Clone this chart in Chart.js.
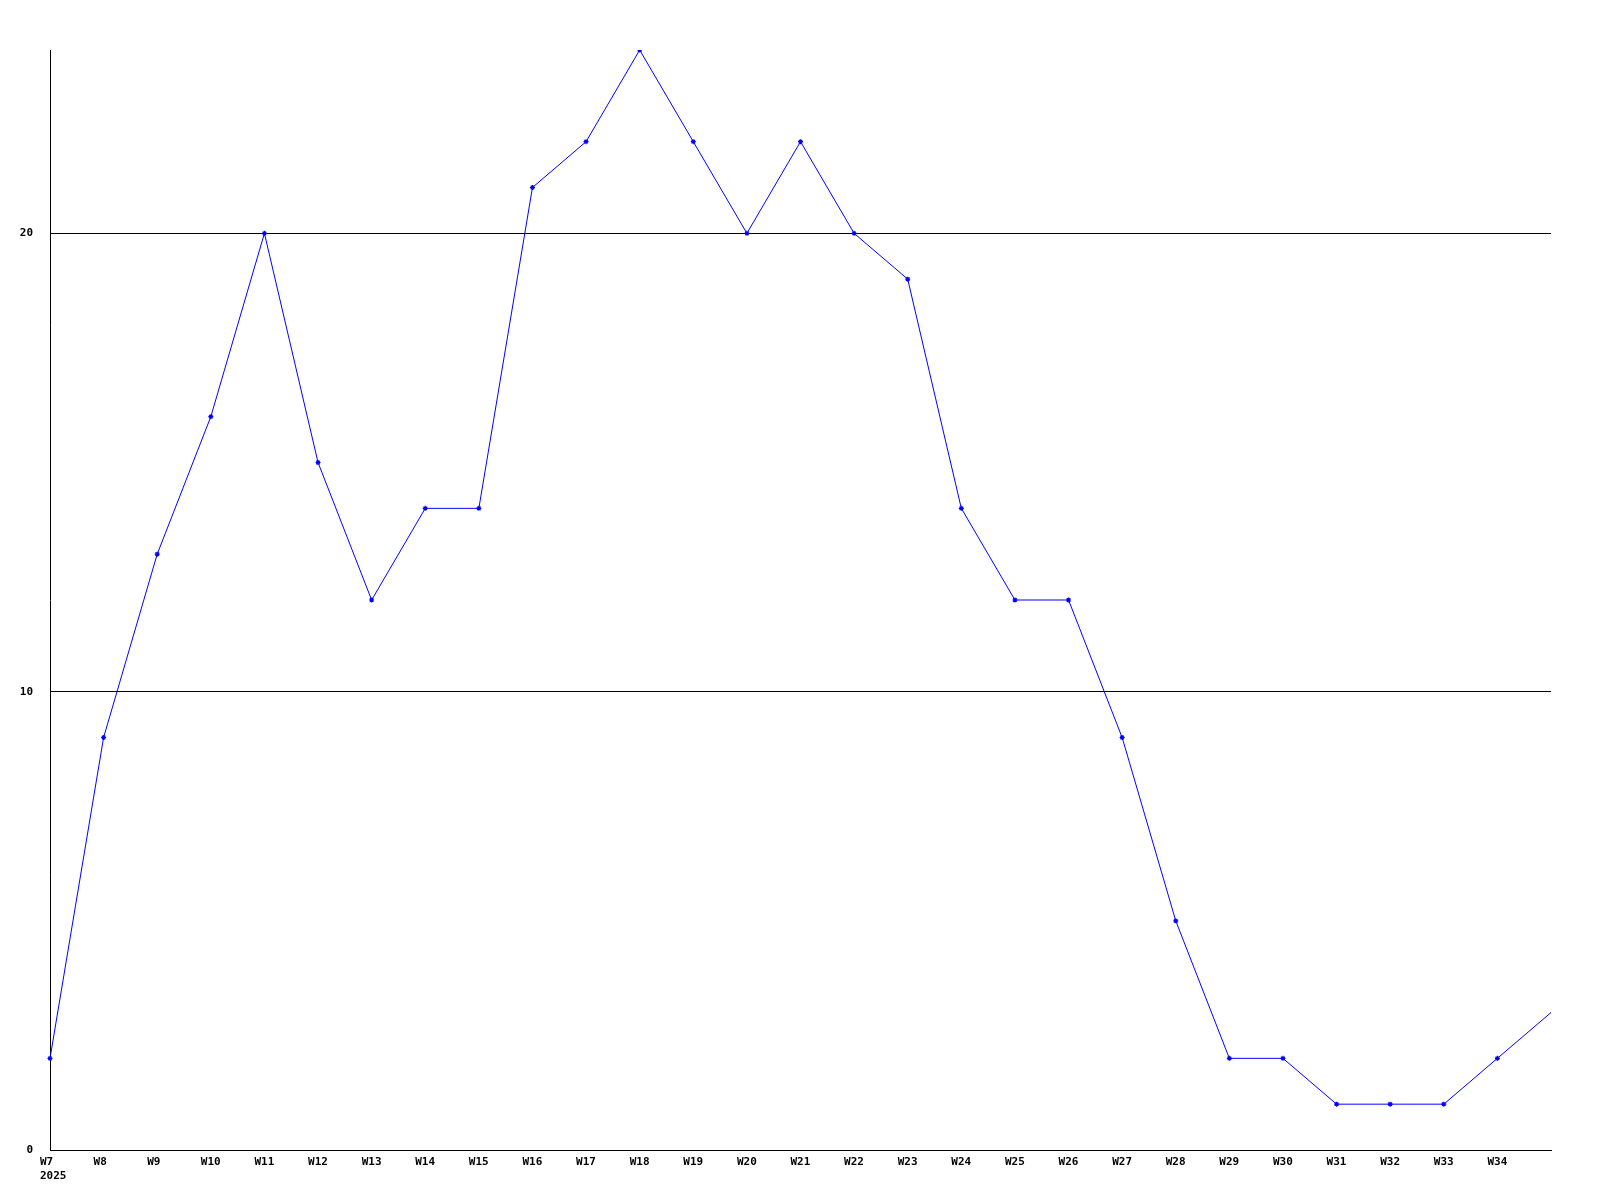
<!DOCTYPE html>
<html>
<head>
<meta charset="utf-8">
<script src="https://cdn.jsdelivr.net/npm/chart.js@4.4.1/dist/chart.umd.min.js"></script>
<style>
  html, body { margin: 0; padding: 0; background: #fff; }
  #wrap { width: 1600px; height: 1200px; }
</style>
</head>
<body>
<div id="wrap"><canvas id="chart" width="1600" height="1200"></canvas></div>
<script>
// Weeks shown on the x axis (W35 has a point but no label)
const weeks = ['W7', 'W8', 'W9', 'W10', 'W11', 'W12', 'W13', 'W14', 'W15', 'W16',
    'W17', 'W18', 'W19', 'W20', 'W21', 'W22', 'W23', 'W24', 'W25', 'W26',
    'W27', 'W28', 'W29', 'W30', 'W31', 'W32', 'W33', 'W34', 'W35'];
const yearLabel = '2025';
const counts = [2, 9, 13, 16, 20, 15, 12, 14, 14, 21,
    22, 24, 22, 20, 22, 20, 19, 14, 12, 12,
    9, 5, 2, 2, 1, 1, 1, 2, 3];
const yTicks = [0, 10, 20];
const yMax = 24;

const font = { family: '"DejaVu Sans Mono", monospace', size: 11, weight: 'bold', lineHeight: 1.3 };

const ctx = document.getElementById('chart').getContext('2d');
new Chart(ctx, {
    type: 'line',
    data: {
        labels: weeks,
        datasets: [{
            data: counts,
            borderColor: '#0000ff',
            backgroundColor: '#0000ff',
            borderWidth: 1,
            tension: 0,
            pointStyle: 'star',
            pointRadius: counts.map((v, i) => i === counts.length - 1 ? 0 : 2.5),
            pointBorderWidth: 1.2,
            pointBorderColor: '#0000ff',
            fill: false
        }]
    },
    options: {
        responsive: false,
        animation: false,
        layout: { padding: { top: 50, right: 49, left: 0, bottom: 0 } },
        plugins: { legend: { display: false }, tooltip: { enabled: false } },
        scales: {
            x: {
                offset: false,
                grid: { display: false, drawTicks: false },
                border: { color: '#000', width: 1 },
                afterFit: (s) => { s.height = 50; },
                ticks: {
                    color: '#000',
                    font: font,
                    autoSkip: false,
                    maxRotation: 0,
                    minRotation: 0,
                    align: 'start',
                    labelOffset: -10,
                    padding: 5,
                    callback: (v, i) => {
                        if (i === weeks.length - 1) return '';
                        return i === 0 ? [weeks[i], yearLabel] : weeks[i];
                    }
                }
            },
            y: {
                min: 0,
                max: yMax,
                grid: { color: '#000', lineWidth: 1, drawTicks: false },
                border: { color: '#000', width: 1 },
                afterFit: (s) => { s.width = 50; },
                afterBuildTicks: (s) => { s.ticks = yTicks.map(v => ({ value: v })); },
                ticks: {
                    color: '#000',
                    font: font,
                    padding: 17
                }
            }
        }
    }
});
</script>
</body>
</html>
